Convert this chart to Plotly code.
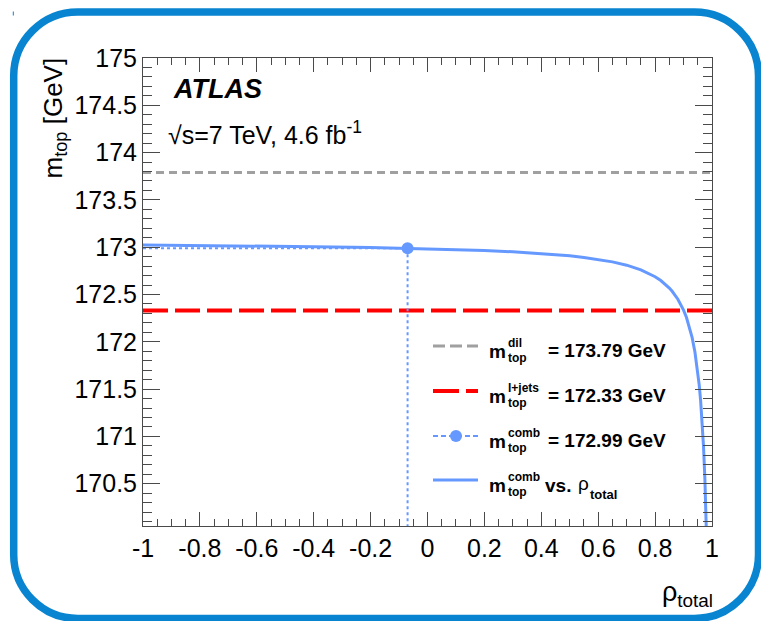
import plotly.graph_objects as go

# Top-quark mass results (GeV)
m_dil = 173.79
m_ljets = 172.33
m_comb = 172.99
rho_comb = -0.07

# Combined mass as a function of the total correlation rho_total
rho_curve = [-1.0, -0.8, -0.6, -0.4, -0.2, -0.07, 0.0, 0.2, 0.3, 0.4, 0.5, 0.55,
             0.6, 0.65, 0.7, 0.75, 0.8, 0.82, 0.85, 0.86, 0.88, 0.89, 0.9, 0.91,
             0.92, 0.93, 0.94, 0.95, 0.955, 0.96, 0.965, 0.97, 0.975, 0.98, 0.982]
m_curve = [173.022, 173.018, 173.012, 173.006, 172.997, 172.989, 172.984, 172.965,
           172.952, 172.934, 172.909, 172.892, 172.871, 172.845, 172.810, 172.761,
           172.688, 172.648, 172.568, 172.534, 172.450, 172.398, 172.335, 172.259,
           172.165, 172.047, 171.892, 171.681, 171.545, 171.378, 171.170, 170.904,
           170.550, 170.058, 169.800]

x_range = [-1.0, 1.0]
y_range = [170.053, 175.0]

x_tick_vals = [-1, -0.8, -0.6, -0.4, -0.2, 0, 0.2, 0.4, 0.6, 0.8, 1]
x_tick_text = ["-1", "-0.8", "-0.6", "-0.4", "-0.2", "0", "0.2", "0.4", "0.6", "0.8", "1"]
y_tick_vals = [170.5, 171, 171.5, 172, 172.5, 173, 173.5, 174, 174.5, 175]
y_tick_text = ["170.5", "171", "171.5", "172", "172.5", "173", "173.5", "174", "174.5", "175"]

legend_values = ["= 173.79 GeV", "= 172.33 GeV", "= 172.99 GeV"]
legend_sups = ["dil", "l+jets", "comb", "comb"]

GRAY = "#a0a0a0"
RED = "#ff0000"
BLUE = "#6699ff"
FRAME = "#0884d0"
AXIS = "#4a4a4a"
FONT = "Liberation Sans, Arial, Helvetica, sans-serif"

W, H = 761, 621
ML, MR, MT, MB = 143, 49, 58, 95
PW, PH = W - ML - MR, H - MT - MB


def px(x):
    return (x - ML) / PW


def py(y):
    return (H - MB - y) / PH


fig = go.Figure()

# combined mass versus correlation
fig.add_trace(go.Scatter(x=rho_curve, y=m_curve, mode="lines",
                         line=dict(color=BLUE, width=3), hoverinfo="skip"))
# individual measurements
fig.add_trace(go.Scatter(x=x_range, y=[m_dil, m_dil], mode="lines",
                         line=dict(color=GRAY, width=3, dash="8px,5px")))
fig.add_trace(go.Scatter(x=x_range, y=[m_ljets, m_ljets], mode="lines",
                         line=dict(color=RED, width=4, dash="25px,7px")))
# combined result projected onto the axes
fig.add_trace(go.Scatter(x=[x_range[0], rho_comb], y=[m_comb, m_comb], mode="lines",
                         line=dict(color=BLUE, width=2, dash="3px,3px")))
fig.add_trace(go.Scatter(x=[rho_comb, rho_comb], y=[m_comb, y_range[0] - 1], mode="lines",
                         line=dict(color=BLUE, width=2, dash="3px,3px")))
fig.add_trace(go.Scatter(x=[rho_comb], y=[m_comb], mode="markers",
                         marker=dict(color=BLUE, size=12)))

shapes = []
annotations = []

# rounded outer frame
x0, x1, y0, y1, r = 13.7, 758.5, 12.0, 618.5, 64.0
k = 0.5523 * r


def P(x, y):
    return f"{px(x):.5f},{py(y):.5f}"


path = (f"M {P(x0 + r, y0)} L {P(x1 - r, y0)} "
        f"C {P(x1 - r + k, y0)} {P(x1, y0 + r - k)} {P(x1, y0 + r)} "
        f"L {P(x1, y1 - r)} "
        f"C {P(x1, y1 - r + k)} {P(x1 - r + k, y1)} {P(x1 - r, y1)} "
        f"L {P(x0 + r, y1)} "
        f"C {P(x0 + r - k, y1)} {P(x0, y1 - r + k)} {P(x0, y1 - r)} "
        f"L {P(x0, y0 + r)} "
        f"C {P(x0, y0 + r - k)} {P(x0 + r - k, y0)} {P(x0 + r, y0)} Z")
shapes.append(dict(type="path", xref="paper", yref="paper", path=path,
                   line=dict(color=FRAME, width=7.5), layer="above"))
shapes.append(dict(type="line", xref="paper", yref="paper",
                   x0=px(13.3), x1=px(13.3), y0=py(11.5), y1=py(15.5),
                   line=dict(color=FRAME, width=1)))

# legend samples
lx0, lx1 = 433, 478
rows = [346, 391, 436, 480]
sample_styles = [dict(color=GRAY, width=3, dash="12px,5px"),
                 dict(color=RED, width=4, dash="26px,7px"),
                 dict(color=BLUE, width=2, dash="5px,3px"),
                 dict(color=BLUE, width=3)]
for ry, st in zip(rows, sample_styles):
    shapes.append(dict(type="line", xref="paper", yref="paper",
                       x0=px(lx0), x1=px(lx1), y0=py(ry), y1=py(ry), line=st))
cx, cy, cr = 456, rows[2], 6
shapes.append(dict(type="circle", xref="paper", yref="paper",
                   x0=px(cx - cr), x1=px(cx + cr), y0=py(cy + cr), y1=py(cy - cr),
                   fillcolor=BLUE, line=dict(color=BLUE, width=0)))


def text(x, y, s, size, xanchor="left", yanchor="middle", angle=0, bold=False):
    annotations.append(dict(xref="paper", yref="paper", x=px(x), y=py(y), text=s,
                            showarrow=False, xanchor=xanchor, yanchor=yanchor,
                            textangle=angle,
                            font=dict(family=FONT, size=size, color="black"),
                            borderpad=0))


# legend labels
for i, ry in enumerate(rows):
    text(488, ry + 5, "<b>m</b>", 19)
    text(507, ry - 3, f"<b>{legend_sups[i]}</b>", 12)
    text(507, ry + 12, "<b>top</b>", 12)
    if i < 3:
        text(547, ry + 4, f"<b>{legend_values[i]}</b>", 19)
text(544, rows[3] + 5, "<b>vs.</b>", 19)
text(577, rows[3] + 3, "ρ", 19)
text(589, rows[3] + 14, "<b>total</b>", 13)

# labels inside the plot
text(172, 89, "<b><i>ATLAS</i></b>", 27)
text(167, 133, "√s=7 TeV, 4.6 fb<sup>-1</sup>", 25)

# axis titles
text(54, 57, "m<sub>top</sub> [GeV]", 26, xanchor="center", yanchor="top", angle=-90)
text(714, 594, "ρ<sub>total</sub>", 27, xanchor="right")

axis_common = dict(showline=True, linecolor=AXIS, linewidth=1, mirror="ticks",
                   ticks="inside", tickcolor=AXIS, tickwidth=1, showgrid=False,
                   zeroline=False, tickfont=dict(family=FONT, size=25, color="black"))

fig.update_layout(
    width=W, height=H,
    margin=dict(l=ML, r=MR, t=MT, b=MB, pad=0),
    paper_bgcolor="white", plot_bgcolor="white",
    showlegend=False,
    xaxis=dict(range=x_range, tickmode="array", tickvals=x_tick_vals, ticktext=x_tick_text,
               ticklen=14, minor=dict(dtick=0.05, tick0=0, ticklen=7, ticks="inside",
                                      tickcolor=AXIS, showgrid=False),
               **axis_common),
    yaxis=dict(range=y_range, tickmode="array", tickvals=y_tick_vals, ticktext=y_tick_text,
               ticklen=17, minor=dict(dtick=0.1, tick0=170, ticklen=9, ticks="inside",
                                      tickcolor=AXIS, showgrid=False),
               **axis_common),
    shapes=shapes,
    annotations=annotations,
)

fig.write_html("out.html")
